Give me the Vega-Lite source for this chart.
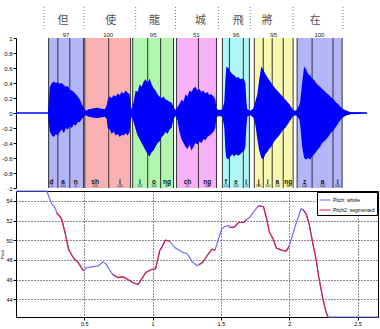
{
"$schema": "https://vega.github.io/schema/vega-lite/v6.json",
"padding": {"left": 0, "top": 5, "right": 0, "bottom": 0},
"spacing": 3,
"bounds": "flush",
"resolve": {"scale": {"color": "independent"}, "legend": {"color": "independent"}},
"config": {"font": "Liberation Sans", "axis": {"labelColor": "black", "tickColor": "black", "domainColor": "black", "labelFontSize": 6, "tickSize": 3, "labelPadding": 1, "labelOverlap": false}},
"datasets": {
"syls": [
{"char": "但", "score": 97, "start": 0.237, "end": 0.491, "mid": 0.364},
{"char": "使", "score": 100, "start": 0.5, "end": 0.833, "mid": 0.67},
{"char": "龍", "score": 95, "start": 0.848, "end": 1.145, "mid": 0.997},
{"char": "城", "score": 51, "start": 1.167, "end": 1.457, "mid": 1.31},
{"char": "飛", "score": 96, "start": 1.5, "end": 1.696, "mid": 1.6},
{"char": "將", "score": 95, "start": 1.732, "end": 2.014, "mid": 1.873},
{"char": "在", "score": 100, "start": 2.043, "end": 2.37, "mid": 2.205}
],
"chars": [
{"char": "但", "t": 0.341}, {"char": "使", "t": 0.688}, {"char": "龍", "t": 1.007}, {"char": "城", "t": 1.341},
{"char": "飛", "t": 1.616}, {"char": "將", "t": 1.826}, {"char": "在", "t": 2.174}
],
"bounds": [{"t": 0.203}, {"t": 0.493}, {"t": 0.87}, {"t": 1.159}, {"t": 1.471}, {"t": 1.703}, {"t": 2.014}, {"t": 2.377}],
"phones": [
{"ph": "d", "sc": 70, "start": 0.237, "pos": 0.258},
{"ph": "a", "sc": 100, "start": 0.304, "pos": 0.342},
{"ph": "n", "sc": 92, "start": 0.391, "pos": 0.435},
{"ph": "sh", "sc": 100, "start": 0.5, "pos": 0.575},
{"ph": "i", "sc": 100, "start": 0.674, "pos": 0.756},
{"ph": "i", "sc": 100, "start": 0.848, "pos": 0.9},
{"ph": "o", "sc": 100, "start": 0.957, "pos": 1.003},
{"ph": "ng", "sc": 92, "start": 1.051, "pos": 1.097},
{"ph": "ch", "sc": 22, "start": 1.167, "pos": 1.246},
{"ph": "ng", "sc": 100, "start": 1.326, "pos": 1.39},
{"ph": "f", "sc": 100, "start": 1.5, "pos": 1.525},
{"ph": "e", "sc": 100, "start": 1.551, "pos": 1.6},
{"ph": "i", "sc": 78, "start": 1.652, "pos": 1.673},
{"ph": "j", "sc": 100, "start": 1.732, "pos": 1.763},
{"ph": "i", "sc": 100, "start": 1.797, "pos": 1.829},
{"ph": "a", "sc": 100, "start": 1.862, "pos": 1.9},
{"ph": "ng", "sc": 82, "start": 1.942, "pos": 1.978},
{"ph": "z", "sc": 100, "start": 2.043, "pos": 2.097},
{"ph": "a", "sc": 100, "start": 2.152, "pos": 2.228},
{"ph": "i", "sc": 100, "start": 2.304, "pos": 2.337}
],
"wave": [
{"t":0,"hi":0.01,"lo":-0.01},{"t":0.232,"hi":0.01,"lo":-0.01},{"t":0.239,"hi":0.15,"lo":-0.15},{"t":0.246,"hi":0.35,"lo":-0.25},
{"t":0.261,"hi":0.4,"lo":-0.3},{"t":0.275,"hi":0.42,"lo":-0.32},{"t":0.29,"hi":0.4,"lo":-0.28},{"t":0.304,"hi":0.41,"lo":-0.3},
{"t":0.319,"hi":0.39,"lo":-0.25},{"t":0.333,"hi":0.4,"lo":-0.22},{"t":0.348,"hi":0.37,"lo":-0.27},{"t":0.362,"hi":0.35,"lo":-0.2},
{"t":0.377,"hi":0.36,"lo":-0.22},{"t":0.391,"hi":0.31,"lo":-0.18},{"t":0.406,"hi":0.3,"lo":-0.2},{"t":0.42,"hi":0.28,"lo":-0.15},
{"t":0.435,"hi":0.25,"lo":-0.17},{"t":0.449,"hi":0.22,"lo":-0.12},{"t":0.464,"hi":0.18,"lo":-0.12},{"t":0.478,"hi":0.12,"lo":-0.08},
{"t":0.493,"hi":0.07,"lo":-0.05},{"t":0.507,"hi":0.03,"lo":-0.03},{"t":0.529,"hi":0.05,"lo":-0.05},{"t":0.558,"hi":0.06,"lo":-0.06},
{"t":0.587,"hi":0.07,"lo":-0.07},{"t":0.616,"hi":0.06,"lo":-0.06},{"t":0.645,"hi":0.05,"lo":-0.05},{"t":0.659,"hi":0.1,"lo":-0.08},
{"t":0.667,"hi":0.18,"lo":-0.2},{"t":0.681,"hi":0.22,"lo":-0.22},{"t":0.696,"hi":0.2,"lo":-0.28},{"t":0.71,"hi":0.24,"lo":-0.25},
{"t":0.725,"hi":0.22,"lo":-0.3},{"t":0.739,"hi":0.26,"lo":-0.28},{"t":0.754,"hi":0.24,"lo":-0.32},{"t":0.768,"hi":0.28,"lo":-0.29},
{"t":0.783,"hi":0.26,"lo":-0.3},{"t":0.797,"hi":0.3,"lo":-0.27},{"t":0.812,"hi":0.27,"lo":-0.3},{"t":0.826,"hi":0.25,"lo":-0.25},
{"t":0.833,"hi":0.1,"lo":-0.1},{"t":0.841,"hi":0.05,"lo":-0.05},{"t":0.855,"hi":0.15,"lo":-0.12},{"t":0.87,"hi":0.3,"lo":-0.22},
{"t":0.884,"hi":0.28,"lo":-0.3},{"t":0.899,"hi":0.38,"lo":-0.35},{"t":0.913,"hi":0.35,"lo":-0.4},{"t":0.928,"hi":0.42,"lo":-0.45},
{"t":0.942,"hi":0.45,"lo":-0.5},{"t":0.957,"hi":0.4,"lo":-0.55},{"t":0.971,"hi":0.46,"lo":-0.58},{"t":0.986,"hi":0.38,"lo":-0.52},
{"t":1.0,"hi":0.33,"lo":-0.5},{"t":1.014,"hi":0.3,"lo":-0.45},{"t":1.029,"hi":0.25,"lo":-0.4},{"t":1.043,"hi":0.22,"lo":-0.38},
{"t":1.058,"hi":0.2,"lo":-0.32},{"t":1.072,"hi":0.22,"lo":-0.3},{"t":1.087,"hi":0.18,"lo":-0.25},{"t":1.101,"hi":0.17,"lo":-0.28},
{"t":1.116,"hi":0.15,"lo":-0.22},{"t":1.13,"hi":0.14,"lo":-0.2},{"t":1.145,"hi":0.08,"lo":-0.08},{"t":1.159,"hi":0.04,"lo":-0.04},
{"t":1.174,"hi":0.08,"lo":-0.1},{"t":1.188,"hi":0.12,"lo":-0.25},{"t":1.203,"hi":0.18,"lo":-0.35},{"t":1.217,"hi":0.15,"lo":-0.4},
{"t":1.232,"hi":0.25,"lo":-0.45},{"t":1.246,"hi":0.22,"lo":-0.48},{"t":1.261,"hi":0.3,"lo":-0.42},{"t":1.275,"hi":0.28,"lo":-0.5},
{"t":1.29,"hi":0.33,"lo":-0.45},{"t":1.304,"hi":0.35,"lo":-0.4},{"t":1.319,"hi":0.3,"lo":-0.42},{"t":1.333,"hi":0.32,"lo":-0.38},
{"t":1.348,"hi":0.28,"lo":-0.4},{"t":1.362,"hi":0.3,"lo":-0.35},{"t":1.377,"hi":0.26,"lo":-0.36},{"t":1.391,"hi":0.28,"lo":-0.32},
{"t":1.406,"hi":0.24,"lo":-0.3},{"t":1.42,"hi":0.25,"lo":-0.28},{"t":1.435,"hi":0.22,"lo":-0.25},{"t":1.449,"hi":0.18,"lo":-0.2},
{"t":1.457,"hi":0.05,"lo":-0.05},{"t":1.478,"hi":0.04,"lo":-0.04},{"t":1.5,"hi":0.05,"lo":-0.05},{"t":1.514,"hi":0.15,"lo":-0.2},
{"t":1.522,"hi":0.45,"lo":-0.5},{"t":1.529,"hi":0.62,"lo":-0.6},{"t":1.543,"hi":0.6,"lo":-0.62},{"t":1.558,"hi":0.55,"lo":-0.58},
{"t":1.572,"hi":0.52,"lo":-0.55},{"t":1.587,"hi":0.5,"lo":-0.58},{"t":1.601,"hi":0.47,"lo":-0.55},{"t":1.616,"hi":0.48,"lo":-0.57},
{"t":1.63,"hi":0.45,"lo":-0.55},{"t":1.645,"hi":0.46,"lo":-0.52},{"t":1.659,"hi":0.44,"lo":-0.5},{"t":1.667,"hi":0.4,"lo":-0.45},
{"t":1.674,"hi":0.15,"lo":-0.2},{"t":1.681,"hi":0.05,"lo":-0.05},{"t":1.703,"hi":0.03,"lo":-0.03},{"t":1.725,"hi":0.06,"lo":-0.06},
{"t":1.739,"hi":0.15,"lo":-0.15},{"t":1.754,"hi":0.25,"lo":-0.35},{"t":1.768,"hi":0.45,"lo":-0.5},{"t":1.783,"hi":0.62,"lo":-0.6},
{"t":1.797,"hi":0.58,"lo":-0.62},{"t":1.812,"hi":0.52,"lo":-0.55},{"t":1.826,"hi":0.48,"lo":-0.52},{"t":1.841,"hi":0.44,"lo":-0.48},
{"t":1.855,"hi":0.4,"lo":-0.45},{"t":1.87,"hi":0.36,"lo":-0.4},{"t":1.884,"hi":0.33,"lo":-0.36},{"t":1.899,"hi":0.3,"lo":-0.33},
{"t":1.913,"hi":0.27,"lo":-0.3},{"t":1.928,"hi":0.24,"lo":-0.26},{"t":1.942,"hi":0.21,"lo":-0.22},{"t":1.957,"hi":0.18,"lo":-0.2},
{"t":1.971,"hi":0.15,"lo":-0.16},{"t":1.986,"hi":0.12,"lo":-0.12},{"t":2.0,"hi":0.08,"lo":-0.08},{"t":2.014,"hi":0.04,"lo":-0.04},
{"t":2.036,"hi":0.03,"lo":-0.03},{"t":2.058,"hi":0.1,"lo":-0.08},{"t":2.065,"hi":0.15,"lo":-0.15},{"t":2.08,"hi":0.4,"lo":-0.45},
{"t":2.094,"hi":0.62,"lo":-0.6},{"t":2.109,"hi":0.58,"lo":-0.62},{"t":2.123,"hi":0.52,"lo":-0.6},{"t":2.138,"hi":0.5,"lo":-0.62},
{"t":2.152,"hi":0.46,"lo":-0.58},{"t":2.167,"hi":0.44,"lo":-0.55},{"t":2.181,"hi":0.4,"lo":-0.52},{"t":2.196,"hi":0.37,"lo":-0.48},
{"t":2.21,"hi":0.35,"lo":-0.45},{"t":2.225,"hi":0.32,"lo":-0.4},{"t":2.239,"hi":0.3,"lo":-0.38},{"t":2.254,"hi":0.27,"lo":-0.35},
{"t":2.268,"hi":0.25,"lo":-0.32},{"t":2.283,"hi":0.22,"lo":-0.28},{"t":2.297,"hi":0.2,"lo":-0.25},{"t":2.312,"hi":0.17,"lo":-0.22},
{"t":2.326,"hi":0.14,"lo":-0.18},{"t":2.341,"hi":0.12,"lo":-0.14},{"t":2.355,"hi":0.09,"lo":-0.1},{"t":2.37,"hi":0.06,"lo":-0.07},
{"t":2.391,"hi":0.04,"lo":-0.04},{"t":2.428,"hi":0.015,"lo":-0.015},{"t":2.551,"hi":0.01,"lo":-0.01}
],
"pitch": [
{"t":0,"p":55},{"t":0.225,"p":55},{"t":0.261,"p":53.7},{"t":0.29,"p":53.2},{"t":0.297,"p":52.8},{"t":0.333,"p":52.2},{"t":0.362,"p":50.6},
{"t":0.384,"p":49.1},{"t":0.42,"p":48.2},{"t":0.457,"p":47.7},{"t":0.493,"p":46.9},{"t":0.514,"p":47.2},{"t":0.551,"p":47.3},{"t":0.601,"p":47.4},
{"t":0.638,"p":47.8},{"t":0.659,"p":47.6},{"t":0.688,"p":46.9},{"t":0.71,"p":46.5},{"t":0.746,"p":46.2},{"t":0.783,"p":46.3},{"t":0.819,"p":46.0},
{"t":0.855,"p":45.7},{"t":0.891,"p":45.5},{"t":0.913,"p":45.9},{"t":0.949,"p":46.7},{"t":0.986,"p":47.0},{"t":1.022,"p":47.1},{"t":1.051,"p":48.9},
{"t":1.072,"p":49.4},{"t":1.094,"p":50.0},{"t":1.123,"p":49.9},{"t":1.167,"p":49.2},{"t":1.217,"p":48.8},{"t":1.254,"p":48.6},{"t":1.29,"p":47.8},
{"t":1.326,"p":47.4},{"t":1.362,"p":47.7},{"t":1.413,"p":48.7},{"t":1.435,"p":49.1},{"t":1.457,"p":49.0},{"t":1.507,"p":51.2},{"t":1.529,"p":51.4},
{"t":1.558,"p":51.5},{"t":1.565,"p":51.3},{"t":1.594,"p":51.3},{"t":1.63,"p":51.8},{"t":1.667,"p":51.8},{"t":1.688,"p":52.1},{"t":1.71,"p":52.3},
{"t":1.746,"p":53.0},{"t":1.775,"p":53.5},{"t":1.812,"p":53.4},{"t":1.833,"p":52.3},{"t":1.855,"p":50.8},{"t":1.884,"p":50.1},{"t":1.906,"p":49.2},
{"t":1.942,"p":49.0},{"t":1.978,"p":48.9},{"t":2.0,"p":49.4},{"t":2.036,"p":51.1},{"t":2.065,"p":52.3},{"t":2.087,"p":53.2},{"t":2.101,"p":53.1},
{"t":2.123,"p":52.7},{"t":2.145,"p":51.7},{"t":2.174,"p":49.6},{"t":2.196,"p":48.1},{"t":2.217,"p":46.2},{"t":2.246,"p":44.1},{"t":2.268,"p":42.8},
{"t":2.283,"p":42.2},{"t":2.65,"p":42.2}
],
"pitchseg": [
{"s":1,"t":0.297,"p":52.8},{"s":1,"t":0.333,"p":52.2},{"s":1,"t":0.362,"p":50.6},{"s":1,"t":0.384,"p":49.1},{"s":1,"t":0.42,"p":48.2},{"s":1,"t":0.457,"p":47.7},{"s":1,"t":0.493,"p":46.9},
{"s":2,"t":0.71,"p":46.5},{"s":2,"t":0.746,"p":46.2},{"s":2,"t":0.783,"p":46.3},{"s":2,"t":0.819,"p":46.0},{"s":2,"t":0.855,"p":45.7},{"s":2,"t":0.891,"p":45.5},{"s":2,"t":0.913,"p":45.9},
{"s":2,"t":0.949,"p":46.7},{"s":2,"t":0.986,"p":47.0},{"s":2,"t":1.022,"p":47.1},{"s":2,"t":1.051,"p":48.9},{"s":2,"t":1.072,"p":49.4},{"s":2,"t":1.094,"p":50.0},{"s":2,"t":1.123,"p":49.9},
{"s":3,"t":1.34,"p":47.5},{"s":3,"t":1.362,"p":47.7},{"s":3,"t":1.413,"p":48.7},{"s":3,"t":1.435,"p":49.1},{"s":3,"t":1.457,"p":49.0},
{"s":4,"t":1.565,"p":51.3},{"s":4,"t":1.594,"p":51.3},{"s":4,"t":1.63,"p":51.8},{"s":4,"t":1.667,"p":51.8},{"s":4,"t":1.688,"p":52.1},
{"s":5,"t":1.775,"p":53.5},{"s":5,"t":1.812,"p":53.4},{"s":5,"t":1.833,"p":52.3},{"s":5,"t":1.855,"p":50.8},{"s":5,"t":1.884,"p":50.1},{"s":5,"t":1.906,"p":49.2},{"s":5,"t":1.942,"p":49.0},{"s":5,"t":1.978,"p":48.9},{"s":5,"t":2.0,"p":49.4},
{"s":6,"t":2.101,"p":53.1},{"s":6,"t":2.123,"p":52.7},{"s":6,"t":2.145,"p":51.7},{"s":6,"t":2.174,"p":49.6},{"s":6,"t":2.196,"p":48.1},{"s":6,"t":2.217,"p":46.2},{"s":6,"t":2.246,"p":44.1},{"s":6,"t":2.268,"p":42.8},{"s":6,"t":2.283,"p":42.2}
]
},
"vconcat": [
{
"width": 351, "height": 150,
"view": {"stroke": null},
"layer": [
{"data": {"name": "syls"}, "mark": {"type": "rect"},
 "encoding": {
  "x": {"field": "start", "type": "quantitative", "scale": {"domain": [0, 2.551], "nice": false, "zero": false}, "axis": null},
  "x2": {"field": "end"},
  "y": {"datum": -1, "type": "quantitative", "scale": {"domain": [-1, 1], "nice": false}, "axis": {"title": null, "values": [-1, -0.8, -0.6, -0.4, -0.2, 0, 0.2, 0.4, 0.6, 0.8, 1], "tickCount": 20, "format": "~g", "labelExpr": "replace(datum.label, '−', '-')", "grid": false, "labelOverlap": false, "labelBound": false}},
  "y2": {"datum": 1},
  "color": {"field": "char", "type": "nominal", "scale": {"domain": ["但", "使", "龍", "城", "飛", "將", "在"], "range": ["#b4b4f8", "#f8b0b0", "#b0f5b0", "#f8b0f8", "#b0f8f8", "#f8f8b0", "#b4b4f8"]}, "legend": null}
 }},
{"data": {"name": "phones"}, "mark": {"type": "rule", "color": "#333333", "strokeWidth": 1},
 "encoding": {"x": {"field": "start", "type": "quantitative"}, "y": {"datum": -1, "type": "quantitative"}, "y2": {"datum": 1}}},
{"data": {"name": "syls"}, "mark": {"type": "rule", "color": "#333333", "strokeWidth": 1},
 "encoding": {"x": {"field": "end", "type": "quantitative"}, "y": {"datum": -1, "type": "quantitative"}, "y2": {"datum": 1}}},
{"data": {"name": "wave"}, "mark": {"type": "area", "color": "#0000ff", "opacity": 1},
 "encoding": {"x": {"field": "t", "type": "quantitative"}, "y": {"field": "hi", "type": "quantitative"}, "y2": {"field": "lo"}}},
{"mark": {"type": "rule", "color": "black", "strokeWidth": 1}, "encoding": {"y": {"datum": 1, "type": "quantitative"}}},
{"mark": {"type": "rule", "color": "black", "strokeWidth": 1}, "encoding": {"y": {"datum": -1, "type": "quantitative"}}},
{"data": {"name": "bounds"}, "mark": {"type": "rule", "color": "#777777", "strokeDash": [1, 2], "strokeWidth": 1},
 "encoding": {"x": {"field": "t", "type": "quantitative"}, "y": {"datum": 1.12, "type": "quantitative"}, "y2": {"datum": 1.427}}},
{"data": {"name": "chars"}, "mark": {"type": "text", "font": "Noto Sans CJK TC", "fontSize": 11, "color": "#555555", "baseline": "middle"},
 "encoding": {"x": {"field": "t", "type": "quantitative"}, "y": {"datum": 1.227, "type": "quantitative"}, "text": {"field": "char"}}},
{"data": {"name": "syls"}, "mark": {"type": "text", "fontSize": 6, "color": "#222222", "baseline": "bottom", "dy": 0},
 "encoding": {"x": {"field": "mid", "type": "quantitative"}, "y": {"datum": 1, "type": "quantitative"}, "text": {"field": "score"}}},
{"data": {"name": "phones"}, "mark": {"type": "text", "fontSize": 6.5, "fontWeight": "bold", "color": "#111111", "baseline": "middle"},
 "encoding": {"x": {"field": "pos", "type": "quantitative"}, "y": {"datum": -0.925, "type": "quantitative"}, "text": {"field": "ph"}}},
{"data": {"name": "phones"}, "mark": {"type": "text", "fontSize": 3, "color": "#111111", "baseline": "middle"},
 "encoding": {"x": {"field": "pos", "type": "quantitative"}, "y": {"datum": -0.975, "type": "quantitative"}, "text": {"field": "sc"}}}
]
},
{
"width": 362, "height": 126,
"view": {"stroke": "black"},
"layer": [
{"data": {"name": "pitch"}, "transform": [{"calculate": "'Pitch: whole'", "as": "series"}], "mark": {"type": "line", "strokeWidth": 1.2},
 "encoding": {
  "x": {"field": "t", "type": "quantitative", "scale": {"domain": [0, 2.65], "nice": false, "zero": false},
        "axis": {"title": null, "values": [0.5, 1, 1.5, 2, 2.5], "tickCount": 20, "format": "~g", "grid": true, "gridColor": "black", "gridDash": [1, 2], "gridOpacity": 0.9, "domain": false, "labelFontSize": 5.5, "labelOverlap": false}},
  "y": {"field": "p", "type": "quantitative", "scale": {"domain": [42.2, 55], "nice": false, "zero": false},
        "axis": {"title": "Pitch", "titleFontSize": 4, "titleFontWeight": "normal", "titlePadding": 1, "values": [44, 46, 48, 50, 52, 54], "tickCount": 20, "format": "~g", "grid": true, "gridColor": "black", "gridDash": [1, 2], "gridOpacity": 0.9, "domain": false, "labelFontSize": 5.5, "labelOverlap": false}},
  "color": {"field": "series", "type": "nominal", "scale": {"domain": ["Pitch: whole", "Pitch2: segmented"], "range": ["#6a6aff", "#dc1e4a"]},
            "legend": {"title": null, "orient": "top-right", "offset": 1, "symbolType": "stroke", "symbolStrokeWidth": 1, "symbolSize": 121, "labelFontSize": 5, "strokeColor": "black", "fillColor": "white", "padding": 2, "rowPadding": 1, "labelOffset": 2}}
 }},
{"data": {"name": "pitchseg"}, "transform": [{"calculate": "'Pitch2: segmented'", "as": "series"}], "mark": {"type": "line", "strokeWidth": 1.2},
 "encoding": {"x": {"field": "t", "type": "quantitative"}, "y": {"field": "p", "type": "quantitative"}, "detail": {"field": "s", "type": "nominal"},
  "color": {"field": "series", "type": "nominal"}}}
]
}
]
}
